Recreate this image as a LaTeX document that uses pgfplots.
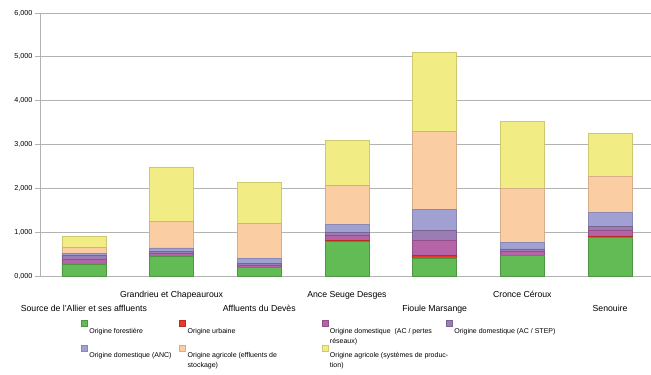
\documentclass[border=0pt]{standalone}
\usepackage{pgfplots}
\pgfplotsset{compat=1.18}
\usepackage{fontspec}
\setmainfont{Liberation Sans}
\definecolor{cFor}{RGB}{99,187,85}
\definecolor{cUrb}{RGB}{232,55,43}
\definecolor{cPer}{RGB}{181,101,167}
\definecolor{cStep}{RGB}{154,125,181}
\definecolor{cAnc}{RGB}{160,160,210}
\definecolor{cEff}{RGB}{251,205,163}
\definecolor{cSys}{RGB}{242,236,132}
\definecolor{cGrid}{RGB}{178,178,178}
\begin{document}
\begin{tikzpicture}
\begin{axis}[
  scale only axis,
  width=611pt, height=263pt,
  ybar stacked, bar width=0.5,
  xmin=-0.5, xmax=6.467,
  ymin=0, ymax=6000,
  axis x line*=bottom, axis y line*=left,
  axis line style={cGrid, line width=0.8pt},
  ytick={0,1000,...,6000},
  yticklabels={{0,000},{1,000},{2,000},{3,000},{4,000},{5,000},{6,000}},
  ymajorgrids, grid style={cGrid, line width=0.8pt},
  major tick length=5pt,
  tick align=outside,
  tick style={cGrid, line width=0.8pt},
  yticklabel style={font=\fontsize{7.2}{9}\selectfont, xshift=1pt},
  xtick={0,...,6},
  xtick style={draw=none},
  minor xtick={-0.5,0.5,...,6.5},
  minor x tick style={cGrid, line width=0.8pt},
  minor tick length=6pt,
  xticklabels={{\strut\\Source de l'Allier et ses affluents},{Grandrieu et Chapeauroux},{\strut\\Affluents du Devès},{Ance Seuge Desges},{\strut\\Fioule Marsange},{Cronce Céroux},{\strut\\Senouire}},
  xticklabel style={align=center, font=\fontsize{8.7}{11.5}\selectfont, yshift=-7pt},
  legend columns=4,
  legend style={draw=none, at={(axis description cs:0.062,-0.16)}, anchor=north west,
    font=\fontsize{7}{10}\selectfont, cells={anchor=north west},
    /tikz/every even column/.append style={column sep=2pt},
    row sep=8pt},
  legend image code/.code={\draw[#1, line width=0.3pt] (0pt,-0.5pt) rectangle (6pt,5.5pt);},
  every axis plot/.append style={line width=0.5pt},
]
\addplot[fill=cFor, draw=cFor!80!black] coordinates {(0,273) (1,455) (2,200) (3,790) (4,411) (5,465) (6,876)};
\addplot[fill=cUrb, draw=cUrb!80!black] coordinates {(0,5) (1,7) (2,5) (3,30) (4,61) (5,7) (6,38)};
\addplot[fill=cPer, draw=cPer!80!black] coordinates {(0,100) (1,53) (2,45) (3,115) (4,343) (5,92) (6,122)};
\addplot[fill=cStep, draw=cStep!80!black] coordinates {(0,98) (1,46) (2,38) (3,65) (4,228) (5,53) (6,91)};
\addplot[fill=cAnc, draw=cAnc!85!black] coordinates {(0,47) (1,83) (2,114) (3,170) (4,480) (5,152) (6,320)};
\addplot[fill=cEff, draw=cEff!85!black] coordinates {(0,122) (1,610) (2,795) (3,900) (4,1782) (5,1226) (6,838)};
\addplot[fill=cSys, draw=cSys!85!black] coordinates {(0,270) (1,1236) (2,943) (3,1030) (4,1805) (5,1539) (6,975)};
\legend{
  \parbox[t]{86pt}{\raggedright Origine forestière},
  \parbox[t]{130pt}{\raggedright Origine urbaine},
  \parbox[t]{112pt}{\raggedright Origine domestique\ \ (AC / pertes\newline réseaux)},
  \parbox[t]{120pt}{\raggedright Origine domestique (AC / STEP)},
  \parbox[t]{86pt}{\raggedright Origine domestique (ANC)},
  \parbox[t]{130pt}{\raggedright Origine agricole (effluents de\newline stockage)},
  \parbox[t]{112pt}{\raggedright \mbox{Origine agricole (systèmes de produc-}\newline tion)}
}
\end{axis}
\pgfresetboundingbox
\path ([xshift=-40pt,yshift=-98pt]current axis.south west) rectangle ([yshift=13pt]current axis.north east);
\end{tikzpicture}
\end{document}
